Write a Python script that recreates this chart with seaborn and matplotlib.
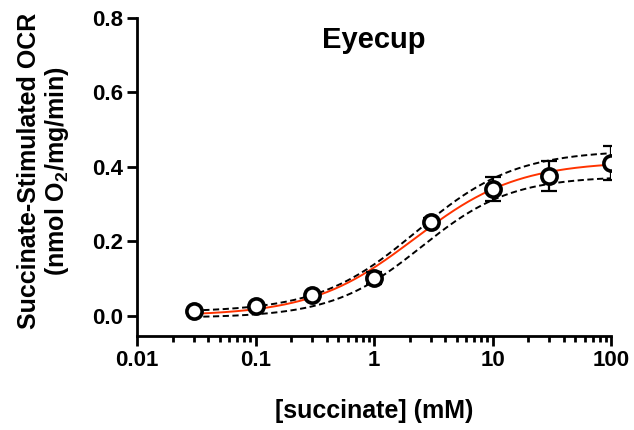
import numpy as np
import pandas as pd
import matplotlib
matplotlib.use("Agg")
import matplotlib.pyplot as plt
import seaborn as sns
from matplotlib.ticker import LogLocator, FixedLocator, FixedFormatter, NullFormatter

# ---- data ----
conc = [0.03, 0.1, 0.3, 1, 3, 10, 30, 100]                 # mM
ocr = [0.012, 0.027, 0.055, 0.101, 0.252, 0.341, 0.376, 0.410]
sem = [0.004, 0.005, 0.006, 0.016, 0.010, 0.032, 0.041, 0.046]

# four-parameter logistic fit and its confidence band (parameters)
fit_params = dict(bottom=0.0, top=0.415, ec50=2.2, hill=1.0)
upper_params = dict(bottom=0.01, top=0.445, ec50=2.3, hill=1.05)
lower_params = dict(bottom=-0.005, top=0.375, ec50=2.5, hill=1.15)

x_ticks = [0.01, 0.1, 1, 10, 100]
x_ticklabels = ["0.01", "0.1", "1", "10", "100"]
y_ticks = [0.0, 0.2, 0.4, 0.6, 0.8]
y_ticklabels = ["0.0", "0.2", "0.4", "0.6", "0.8"]

title = "Eyecup"
xlabel = "[succinate] (mM)"
ylabel = "Succinate-Stimulated OCR\n(nmol O$_2$/mg/min)"


def logistic(x, bottom, top, ec50, hill):
    x = np.asarray(x, dtype=float)
    return bottom + (top - bottom) * x**hill / (x**hill + ec50**hill)


sns.set_style("ticks")
plt.rcParams["font.family"] = ["Liberation Sans", "DejaVu Sans"]
plt.rcParams["font.weight"] = "bold"
plt.rcParams["mathtext.fontset"] = "custom"
plt.rcParams["mathtext.rm"] = "Liberation Sans:bold"
plt.rcParams["mathtext.it"] = "Liberation Sans:bold"
plt.rcParams["mathtext.bf"] = "Liberation Sans:bold"
for key in ["text.color", "axes.labelcolor", "xtick.color", "ytick.color",
            "xtick.labelcolor", "ytick.labelcolor", "axes.edgecolor"]:
    plt.rcParams[key] = "black"

fig = plt.figure(figsize=(6.34, 4.30), dpi=100)
ax = fig.add_axes([137 / 634, 1 - 336 / 430, 474 / 634, (336 - 18) / 430])

xs = np.logspace(np.log10(min(conc)), np.log10(max(conc)), 300)
curves = pd.DataFrame({
    "x": xs,
    "fit": logistic(xs, **fit_params),
    "upper": logistic(xs, **upper_params),
    "lower": logistic(xs, **lower_params),
})

for col in ["upper", "lower"]:
    sns.lineplot(data=curves, x="x", y=col, ax=ax, color="black", lw=1.4,
                 linestyle=(0, (3.2, 1.8)), zorder=2)
sns.lineplot(data=curves, x="x", y="fit", ax=ax, color="#ff3300", lw=1.4, zorder=3)

pts = pd.DataFrame({"conc": conc, "ocr": ocr, "sem": sem})
ax.errorbar(pts["conc"], pts["ocr"], yerr=pts["sem"], fmt="none", ecolor="black",
            elinewidth=1.6, capsize=6, capthick=1.6, zorder=4)
sns.scatterplot(data=pts, x="conc", y="ocr", ax=ax, s=120, marker="o",
                facecolor="white", edgecolor="black", linewidth=2.6, zorder=5)

ax.set_xscale("log")
ax.set_xlim(0.01, 100)
ax.set_ylim(-0.054, 0.8)
ax.xaxis.set_major_locator(FixedLocator(x_ticks))
ax.xaxis.set_major_formatter(FixedFormatter(x_ticklabels))
ax.xaxis.set_minor_locator(LogLocator(base=10, subs=np.arange(2, 10)))
ax.xaxis.set_minor_formatter(NullFormatter())
ax.yaxis.set_major_locator(FixedLocator(y_ticks))
ax.yaxis.set_major_formatter(FixedFormatter(y_ticklabels))

for side in ["top", "right"]:
    ax.spines[side].set_visible(False)
for side in ["left", "bottom"]:
    ax.spines[side].set_linewidth(2)
    ax.spines[side].set_color("black")

ax.tick_params(axis="both", which="major", width=2, length=7, labelsize=16,
               color="black", labelcolor="black", pad=3)
ax.tick_params(axis="x", which="minor", width=2, length=4.5, color="black")
ax.tick_params(axis="y", which="minor", left=False)
for lab in ax.get_xticklabels() + ax.get_yticklabels():
    lab.set_fontweight("bold")

ax.set_xlabel(xlabel, fontsize=18, fontweight="bold", labelpad=20, color="black")
ax.set_ylabel(ylabel, fontsize=18, fontweight="bold", linespacing=1.1,
              color="black")
ax.yaxis.set_label_coords(-0.14, 0.52)
ax.text(0.5, 0.93, title, transform=ax.transAxes, ha="center", va="center",
        fontsize=21, fontweight="bold", color="black")

fig.savefig("out.png", dpi=100)
